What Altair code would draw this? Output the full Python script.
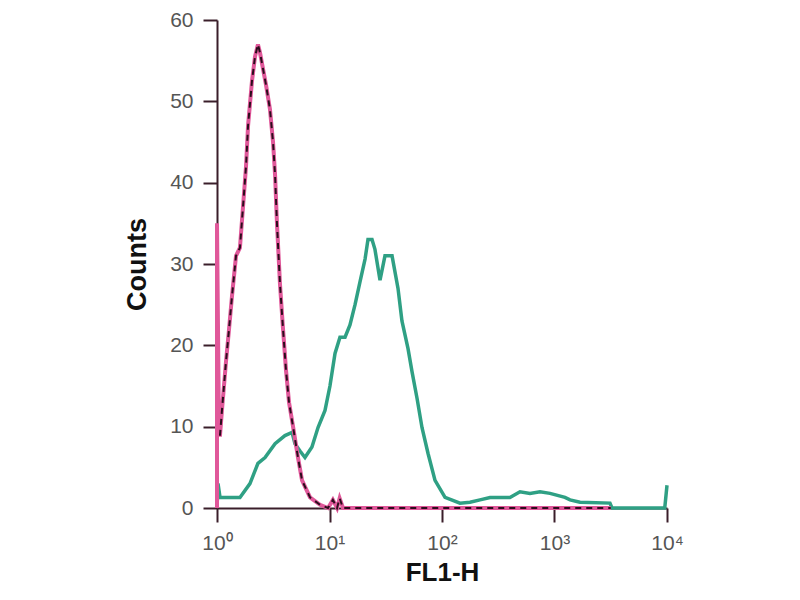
import altair as alt
import pandas as pd

# FL1-H positions given as decades (log10 of the channel value), counts
green_exp = [0.0, 0.009, 0.027, 0.204, 0.293, 0.364, 0.427, 0.516, 0.604, 0.667,
             0.693, 0.738, 0.782, 0.844, 0.898, 0.96, 1.004, 1.049, 1.093, 1.138,
             1.182, 1.227, 1.271, 1.316, 1.342, 1.378, 1.404, 1.449, 1.493, 1.556,
             1.609, 1.644, 1.698, 1.733, 1.778, 1.822, 1.876, 1.938, 2.027, 2.16,
             2.249, 2.338, 2.427, 2.604, 2.693, 2.782, 2.871, 2.96, 3.093, 3.138,
             3.227, 3.493, 3.511, 3.98, 4.0]
green_cnt = [0, 3, 1.3, 1.3, 3, 5.5, 6.2, 7.9, 8.9, 9.3,
             7.9, 7, 6.2, 7.5, 9.9, 12, 15, 19, 21, 21,
             22.5, 25, 27.8, 30.6, 33, 33, 31.8, 28, 31, 31,
             27, 23, 19.6, 16.8, 13.5, 9.9, 6.7, 3.4, 1.3, 0.6,
             0.7, 1, 1.3, 1.3, 2, 1.8, 2, 1.8, 1.3, 1,
             0.7, 0.6, 0, 0, 2.8]

pink_exp = [0.0, 0.0, 0.018, 0.027, 0.044, 0.08, 0.107, 0.133, 0.169, 0.204,
            0.231, 0.258, 0.276, 0.311, 0.338, 0.364, 0.382, 0.409, 0.436, 0.471,
            0.498, 0.516, 0.533, 0.56, 0.587, 0.613, 0.64, 0.676, 0.72, 0.756,
            0.827, 0.916, 0.987, 1.03, 1.067, 1.09, 1.12, 1.2, 3.5]
pink_cnt = [0, 35, 9, 9, 12, 18, 22, 26, 31, 32,
            37, 42, 47, 52.5, 55.5, 57, 56, 54, 52, 49,
            45, 41, 35, 27.5, 22, 17, 13, 10, 6.2, 3.4,
            1.3, 0.4, 0, 1, 0, 1.2, 0, 0, 0]

black_exp = [0.018, 0.027, 0.044, 0.08, 0.107, 0.133, 0.169, 0.204,
             0.231, 0.258, 0.276, 0.311, 0.338, 0.364, 0.382, 0.409, 0.436, 0.471,
             0.498, 0.516, 0.533, 0.56, 0.587, 0.613, 0.64, 0.676, 0.72, 0.756,
             0.827, 0.916, 0.987, 1.03, 1.067, 1.09, 1.12, 1.2, 3.5]
black_cnt = [9, 9, 12, 18, 22, 26, 31, 32,
             37, 42, 47, 52.5, 55.5, 57, 56, 54, 52, 49,
             45, 41, 35, 27.5, 22, 17, 13, 10, 6.2, 3.4,
             1.3, 0.4, 0, 1, 0, 1.2, 0, 0, 0]

x_ticks = [1, 10, 100, 1000, 10000]
y_ticks = [0, 10, 20, 30, 40, 50, 60]


def frame(name, exps, cnts):
    return pd.DataFrame({
        "series": name,
        "fl": [10 ** e for e in exps],
        "count": cnts,
        "idx": list(range(len(exps))),
    })


green_df = frame("green", green_exp, green_cnt)
pink_df = frame("pink", pink_exp, pink_cnt)
black_df = frame("black", black_exp, black_cnt)

label_font = "'Liberation Sans', Arial, sans-serif"
axis_col = "#3a1e2a"

x_enc = alt.X(
    "fl:Q",
    scale=alt.Scale(type="log", domain=[1, 10000], nice=False),
    axis=alt.Axis(
        values=x_ticks,
        labelExpr="datum.value == 1 ? '10⁰' : datum.value == 10 ? '10¹' : datum.value == 100 ? '10²' : datum.value == 1000 ? '10³' : '10⁴'",
        title="FL1-H",
        grid=False,
        tickSize=14,
        tickWidth=2,
        tickColor=axis_col,
        domainColor=axis_col,
        domainWidth=2,
        labelFont=label_font,
        labelFontSize=21,
        labelColor="#555555",
        labelPadding=10,
        labelFlush=False,
        titleFont="Liberation Sans",
        titleFontSize=26,
        titleFontWeight="bold",
        titleColor="#111111",
        titlePadding=6,
    ),
)
y_enc = alt.Y(
    "count:Q",
    scale=alt.Scale(domain=[0, 60], nice=False),
    axis=alt.Axis(
        values=y_ticks,
        title="Counts",
        grid=False,
        tickSize=14,
        tickWidth=2,
        tickColor=axis_col,
        domainColor=axis_col,
        domainWidth=2,
        labelFont=label_font,
        labelFontSize=21,
        labelColor="#555555",
        labelPadding=10,
        titleFont="Liberation Sans",
        titleFontSize=27,
        titleFontWeight="bold",
        titleColor="#111111",
        titlePadding=18,
    ),
)

green = alt.Chart(green_df).mark_line(color="#2fa084", strokeWidth=3.5).encode(
    x=x_enc, y=y_enc, order="idx:Q"
)
pink = alt.Chart(pink_df).mark_line(color="#e0589a", strokeWidth=4).encode(
    x=x_enc, y=y_enc, order="idx:Q"
)
black = alt.Chart(black_df).mark_line(
    color="#2b0d1c", strokeWidth=2, strokeDash=[6, 5]
).encode(x=x_enc, y=y_enc, order="idx:Q")

chart = (
    alt.layer(green, pink, black)
    .properties(
        width=450,
        height=488,
        autosize=alt.AutoSizeParams(type="none"),
        padding={"left": 209, "top": 12, "right": 120, "bottom": 84},
    )
    .configure_view(stroke=None)
)

chart.save("out.html", embed_options={"renderer": "svg", "actions": False})
